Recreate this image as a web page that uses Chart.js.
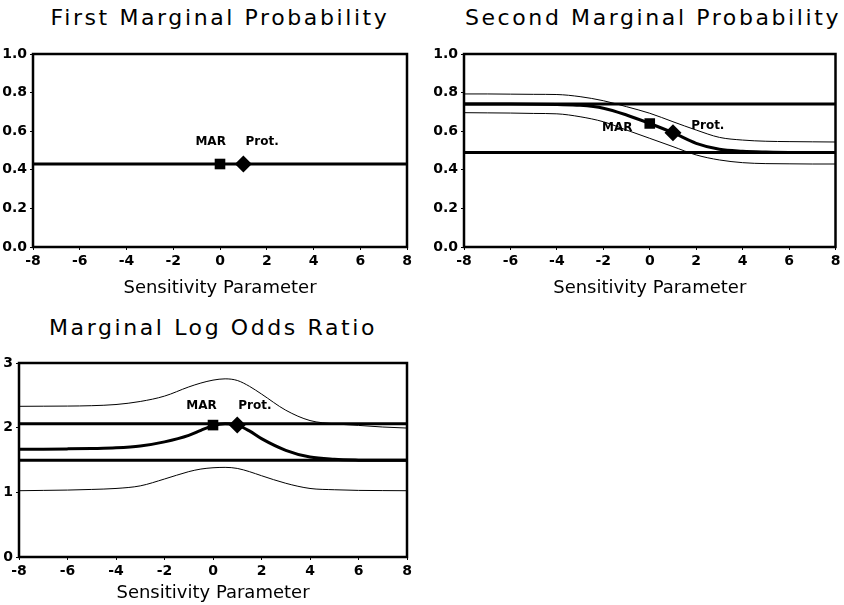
<!DOCTYPE html>
<html>
<head>
<meta charset="utf-8">
<script src="https://cdn.jsdelivr.net/npm/chart.js@4.4.1/dist/chart.umd.min.js"></script>
<style>
	body { margin: 0; background: #fff; width: 844px; height: 605px; position: relative; overflow: hidden; }
	.panel { position: absolute; }
	.title { position: absolute; font-family: 'DejaVu Sans', sans-serif; font-size: 22px; letter-spacing: 2.6px; color: #000; white-space: nowrap; transform: translate(-50%, -50%); }
</style>
</head>
<body>
<div class="title" style="left:220px; top:17px;">First Marginal Probability</div>
<div class="title" style="left:653px; top:17px;">Second Marginal Probability</div>
<div class="title" style="left:213px; top:327px;">Marginal Log Odds Ratio</div>
<div class="panel" style="left:0; top:40px; width:420px; height:260px;"><canvas id="c1"></canvas></div>
<div class="panel" style="left:420px; top:40px; width:424px; height:260px;"><canvas id="c2"></canvas></div>
<div class="panel" style="left:0; top:300px; width:420px; height:305px;"><canvas id="c3"></canvas></div>
<script>
// 横轴 (敏感性参数)
const xTicks = [-8, -6, -4, -2, 0, 2, 4, 6, 8];
const xFull = [-8, 8];

// 第一边际概率
const p1Level = [0.43, 0.43];
const p1Mar = [0, 0.43];
const p1Prot = [1, 0.43];
const p1Labels = [['MAR', -0.4, 0.545], ['Prot.', 1.8, 0.545]];

// 第二边际概率
const p2X = [-8, -7, -6, -5, -4, -3, -2, -1, 0, 1, 2, 3, 4, 5, 6, 7, 8];
const p2Est = [0.741, 0.741, 0.741, 0.74, 0.738, 0.734, 0.719, 0.684, 0.64, 0.592, 0.537, 0.506, 0.496, 0.492, 0.49, 0.49, 0.49];
const p2Upper = [0.793, 0.793, 0.792, 0.791, 0.79, 0.779, 0.758, 0.727, 0.693, 0.649, 0.606, 0.568, 0.554, 0.548, 0.546, 0.545, 0.544];
const p2Lower = [0.696, 0.695, 0.694, 0.692, 0.69, 0.675, 0.649, 0.606, 0.563, 0.52, 0.477, 0.451, 0.437, 0.432, 0.431, 0.43, 0.43];
const p2HighLine = [0.741, 0.741];
const p2LowLine = [0.49, 0.49];
const p2Mar = [0, 0.64];
const p2Prot = [1, 0.592];
const p2Labels = [['MAR', -1.4, 0.615], ['Prot.', 2.5, 0.63]];

// 边际对数优势比
const p3X = [-8, -7, -6, -5, -4, -3, -2, -1, -0.5, 0, 0.5, 1, 1.5, 2, 3, 4, 5, 6, 7, 8];
const p3Est = [1.665, 1.668, 1.672, 1.678, 1.688, 1.716, 1.78, 1.88, 1.958, 2.03, 2.06, 2.04, 1.95, 1.83, 1.65, 1.545, 1.51, 1.498, 1.495, 1.495];
const p3Upper = [2.33, 2.332, 2.334, 2.34, 2.358, 2.405, 2.488, 2.63, 2.69, 2.735, 2.755, 2.73, 2.64, 2.52, 2.27, 2.11, 2.06, 2.035, 2.01, 1.994];
const p3Lower = [1.025, 1.03, 1.035, 1.045, 1.06, 1.10, 1.206, 1.32, 1.36, 1.38, 1.386, 1.37, 1.32, 1.257, 1.14, 1.06, 1.04, 1.03, 1.027, 1.025];
const p3HighLine = [2.06, 2.06];
const p3LowLine = [1.495, 1.495];
const p3Mar = [0, 2.04];
const p3Prot = [1, 2.04];
const p3Labels = [['MAR', -0.47, 2.34], ['Prot.', 1.73, 2.34]];

function pts(xs, ys) {
	return xs.map((x, i) => ({ x: x, y: ys[i] }));
}

function lineSet(xs, ys, width) {
	return {
		type: 'line',
		data: pts(xs, ys),
		borderColor: '#000',
		borderWidth: width,
		pointRadius: 0,
		fill: false,
		cubicInterpolationMode: 'monotone',
		order: 2
	};
}

function markerSet(pt, style, r) {
	return {
		type: 'scatter',
		data: [{ x: pt[0], y: pt[1] }],
		pointStyle: style,
		pointRadius: r,
		backgroundColor: '#000',
		borderColor: '#000',
		borderWidth: 0,
		order: 0
	};
}

// 画框和标注文字
const framePlugin = {
	id: 'frame',
	afterDatasetsDraw(chart) {
		const a = chart.chartArea;
		const ctx = chart.ctx;
		ctx.save();
		ctx.strokeStyle = '#000';
		ctx.lineWidth = 2.5;
		ctx.strokeRect(a.left, a.top, a.right - a.left, a.bottom - a.top);
		const labels = chart.options.plugins.frame.labels || [];
		ctx.fillStyle = '#000';
		ctx.font = 'bold 12px "DejaVu Sans", sans-serif';
		ctx.textAlign = 'center';
		ctx.textBaseline = 'middle';
		labels.forEach(l => {
			ctx.fillText(l[0], chart.scales.x.getPixelForValue(l[1]), chart.scales.y.getPixelForValue(l[2]));
		});
		ctx.restore();
	}
};

function makePanel(id, datasets, yOpt, pad, yWidth, xHeight, labels) {
	const ctx = document.getElementById(id).getContext('2d');
	return new Chart(ctx, {
		type: 'scatter',
		data: { datasets: datasets },
		options: {
			responsive: true,
			maintainAspectRatio: false,
			animation: false,
			events: [],
			layout: { padding: pad },
			plugins: {
				legend: { display: false },
				tooltip: { enabled: false },
				frame: { labels: labels }
			},
			scales: {
				x: {
					type: 'linear',
					min: -8,
					max: 8,
					afterBuildTicks: s => { s.ticks = xTicks.map(v => ({ value: v })); },
					afterFit: s => { s.height = xHeight; },
					border: { display: false },
					grid: { drawOnChartArea: false, drawTicks: true, tickLength: 3, color: '#000' },
					ticks: {
						color: '#000',
						padding: 3,
						maxRotation: 0,
						autoSkip: false,
						font: { family: 'DejaVu Sans', size: 14, weight: 'bold' }
					},
					title: {
						display: true,
						text: 'Sensitivity Parameter',
						color: '#000',
						padding: { top: 0, bottom: 1 },
						font: { family: 'DejaVu Sans', size: 18 }
					}
				},
				y: {
					type: 'linear',
					min: yOpt.min,
					max: yOpt.max,
					afterBuildTicks: s => { s.ticks = yOpt.ticks.map(v => ({ value: v })); },
					afterFit: s => { s.width = yWidth; },
					border: { display: false },
					grid: { drawOnChartArea: false, drawTicks: true, tickLength: 3, color: '#000' },
					ticks: {
						color: '#000',
						padding: 3,
						autoSkip: false,
						callback: v => yOpt.fmt(v),
						font: { family: 'DejaVu Sans', size: 14, weight: 'bold' }
					}
				}
			}
		},
		plugins: [framePlugin]
	});
}

const probTicks = [0, 0.2, 0.4, 0.6, 0.8, 1.0];
const probY = { min: 0, max: 1, ticks: probTicks, fmt: v => v.toFixed(1) };

makePanel('c1', [
	markerSet(p1Mar, 'rect', 7.5),
	markerSet(p1Prot, 'rectRot', 8.5),
	lineSet(xFull, p1Level, 3)
], probY, { top: 14, right: 13, left: 0, bottom: 0 }, 33, 53, p1Labels);

makePanel('c2', [
	markerSet(p2Mar, 'rect', 7.5),
	markerSet(p2Prot, 'rectRot', 8.5),
	lineSet(xFull, p2HighLine, 3),
	lineSet(xFull, p2LowLine, 3),
	lineSet(p2X, p2Est, 3),
	lineSet(p2X, p2Upper, 1),
	lineSet(p2X, p2Lower, 1)
], probY, { top: 14, right: 7, left: 0, bottom: 0 }, 44, 53, p2Labels);

makePanel('c3', [
	markerSet(p3Mar, 'rect', 7.5),
	markerSet(p3Prot, 'rectRot', 8.5),
	lineSet(xFull, p3HighLine, 3),
	lineSet(xFull, p3LowLine, 3),
	lineSet(p3X, p3Est, 3),
	lineSet(p3X, p3Upper, 1),
	lineSet(p3X, p3Lower, 1)
], { min: 0, max: 3, ticks: [0, 1, 2, 3], fmt: v => String(v) }, { top: 63, right: 13, left: 0, bottom: 0 }, 19, 48, p3Labels);
</script>
</body>
</html>
